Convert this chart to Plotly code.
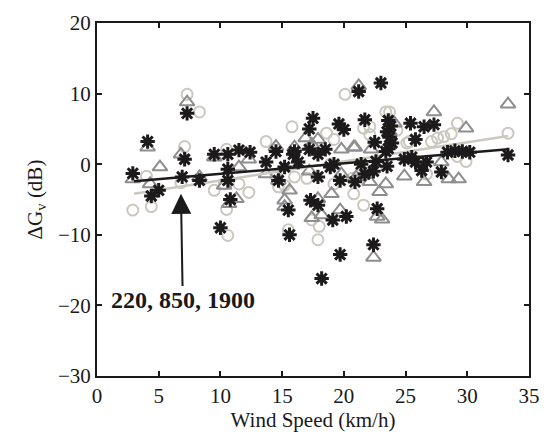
import plotly.graph_objects as go

# Light-gray circles
circ_x = [2.9, 4.4, 4.0, 6.8, 7.1, 7.3, 8.3, 9.5, 10.5, 10.5, 10.3, 11.5, 10.6, 12.3, 14.7,
          13.7, 15.8, 14.5, 15.2, 20.1, 18.6, 19.2, 21.6, 22.1, 15.5, 18.0, 17.9, 21.6, 20.8,
          16.0, 19.2, 18.9, 23.4, 25.3, 29.2, 28.7, 28.1, 27.6, 27.1, 29.9, 29.2, 33.3, 26.7,
          17.0, 20.7, 22.6, 24.3, 21.8, 22.1, 17.4, 23.7, 25.1]
circ_y = [-6.5, -6.0, -1.7, -2.6, 2.5, 9.9, 7.4, -3.7, -6.4, 2.1, -2.8, -2.8, -10.1, -4.0, -3.2,
          3.2, 5.3, -1.7, -3.0, 9.9, 4.4, 3.5, 5.1, 5.3, -9.3, -8.8, -10.7, -5.8, -4.2,
          -1.8, -2.8, 0.0, 7.4, 3.2, 5.8, 4.3, 3.9, 3.7, 3.2, 0.4, 1.1, 4.4, -1.4,
          -2.0, -2.0, -0.6, 4.8, -1.4, 4.2, -7.9, 7.4, 3.0]

# Gray triangles
tri_x = [7.3, 4.1, 5.1, 6.8, 2.9, 4.3, 8.3, 10.3, 10.7, 11.5, 12.3, 14.7, 9.5, 14.5, 13.7,
         15.6, 15.2, 16.0, 21.2, 16.9, 17.4, 19.8, 20.8, 22.2, 17.2, 19.0, 19.8, 21.0, 22.9,
         17.9, 15.2, 17.4, 18.2, 19.7, 22.4, 22.7, 17.9, 23.4, 22.1, 11.3, 33.3, 27.3, 29.9,
         24.9, 26.5, 27.9, 28.5, 29.3, 23.1, 23.7, 24.1, 20.9]
tri_y = [8.8, 2.4, -0.4, 1.4, -2.1, -2.8, -1.8, -3.0, -5.6, -0.4, 0.7, -2.3, 1.0, 2.5, -1.4,
         -3.7, -5.1, 2.4, 11.1, 3.7, 2.8, 2.1, 2.4, 2.1, -1.0, -4.2, -1.4, -1.8, -3.9,
         -4.9, -6.0, -7.6, -7.2, -6.5, -13.2, -7.4, 3.5, -2.8, -2.5, -4.9, 8.5, 7.4, 5.1,
         -1.7, -2.5, 0.3, -2.1, -2.1, -7.8, 4.6, 5.8, 2.4]

# Black asterisks
ast_x = [7.3, 4.1, 7.1, 2.9, 4.4, 5.0, 6.9, 8.3, 9.5, 10.6, 11.5, 10.6, 10.6, 10.8, 10.0,
         13.7, 12.4, 14.5, 14.7, 15.2, 15.9, 15.5, 15.6, 21.2, 23.0, 17.5, 17.2, 19.6, 20.0,
         21.7, 16.0, 16.3, 17.2, 17.9, 18.5, 18.9, 17.9, 19.2, 21.4, 22.5, 22.6, 23.4, 21.7,
         22.4, 19.7, 20.9, 17.3, 17.9, 19.1, 20.2, 19.7, 18.2, 22.4, 22.7, 33.3, 25.4, 26.5,
         27.3, 25.8, 28.4, 29.0, 29.6, 30.2, 24.9, 25.8, 26.7, 26.3, 27.9, 23.6, 23.8, 23.5,
         23.7, 23.9, 23.6, 23.5, 25.5]
ast_y = [7.2, 3.2, 0.7, -1.3, -4.5, -3.7, -1.8, -2.3, 1.4, 1.4, 2.0, -0.7, -2.3, -5.0, -9.0,
         0.3, 1.7, 1.8, -2.3, -0.4, 1.4, -6.5, -10.0, 10.3, 11.5, 6.5, 5.0, 5.7, 4.9,
         6.3, 1.8, 0.3, 2.1, 1.4, 2.1, -0.4, -1.8, 0.0, 0.0, 3.1, 0.4, 1.8, -1.4,
         -1.0, -2.3, -2.5, -5.1, -5.8, -7.9, -7.4, -12.8, -16.2, -11.4, -6.3, 1.3, 5.8, 5.3,
         5.6, 3.5, 1.7, 1.9, 1.8, 1.7, 0.7, 0.3, 0.3, -0.9, -1.1, 6.2, 5.4, 4.6,
         3.8, 3.0, 2.2, -0.3, 1.0]

# Linear fit end points
fit_x = [3.0, 33.3]
fit_black_y = [-2.4, 2.1]
fit_gray_y = [-4.2, 4.0]

x_ticks = [0, 5, 10, 15, 20, 25, 30, 35]
y_ticks = [-30, -20, -10, 0, 10, 20]

C_CIRC = "#cbc8c0"
C_TRI = "#8e8e8e"
C_AST = "#1c1a1a"

fig = go.Figure()
fig.add_trace(go.Scatter(x=circ_x, y=circ_y, mode="markers",
                         marker=dict(symbol="circle-open", size=11, color=C_CIRC,
                                     line=dict(width=2, color=C_CIRC))))
fig.add_trace(go.Scatter(x=tri_x, y=tri_y, mode="markers",
                         marker=dict(symbol="triangle-up-open", size=13, color=C_TRI,
                                     line=dict(width=2, color=C_TRI))))
fig.add_trace(go.Scatter(x=fit_x, y=fit_gray_y, mode="lines",
                         line=dict(color=C_CIRC, width=2.5)))
fig.add_trace(go.Scatter(x=ast_x, y=ast_y, mode="markers",
                         marker=dict(symbol="asterisk-open", size=12, color=C_AST,
                                     line=dict(width=3, color=C_AST))))
fig.add_trace(go.Scatter(x=fit_x, y=fit_black_y, mode="lines",
                         line=dict(color=C_AST, width=2.5)))

font = dict(family="Liberation Serif, Times New Roman, serif", size=21, color="#1a1a1a")
font_ann = dict(family="Liberation Serif, Times New Roman, serif", size=24, color="#1a1a1a")

fig.add_annotation(x=6.8, y=-4.2, ax=6.95, ay=-19.3, xref="x", yref="y", axref="x", ayref="y",
                   text="<b>220, 850, 1900</b>", font=font_ann,
                   showarrow=True, arrowhead=2, arrowsize=2, arrowwidth=2,
                   arrowcolor="#1a1a1a")

axis_common = dict(showline=True, linewidth=2, linecolor="#1a1a1a", mirror="ticks",
                   ticks="inside", ticklen=5, tickwidth=2, tickcolor="#1a1a1a",
                   showgrid=False, zeroline=False, tickfont=font)

fig.update_xaxes(range=[0, 35], tickvals=x_ticks, ticktext=[str(v) for v in x_ticks],
                 title=dict(text="Wind Speed (km/h)", font=font, standoff=4), **axis_common)
fig.update_yaxes(range=[-30, 20], tickvals=y_ticks,
                 ticktext=[str(v).replace("-", "\u2212") for v in y_ticks],
                 title=dict(text="\u0394G<sub>v</sub> (dB)", font=font, standoff=10), **axis_common)

fig.update_layout(width=551, height=444, margin=dict(l=97, r=11, t=16, b=68),
                  paper_bgcolor="white", plot_bgcolor="white", showlegend=False,
                  font=font)

fig.write_html("out.html")
